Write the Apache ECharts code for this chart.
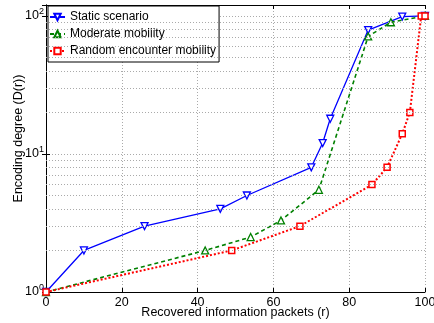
<!DOCTYPE html>
<html><head><meta charset="utf-8">
<script src="https://cdn.jsdelivr.net/npm/echarts@6/dist/echarts.min.js"></script>
<style>html,body{margin:0;padding:0;background:#fff}#c{width:434px;height:323px}</style>
</head><body><div id="c"></div>
<script>
const staticX = [0, 10, 26, 46, 53, 70, 73, 75, 85, 94, 100];
const staticY = [1, 2, 3, 4, 5, 8, 12, 18, 79, 99, 100];
const moderateX = [0, 42, 54, 62, 72, 85, 91, 100];
const moderateY = [1, 2, 2.5, 3.3, 5.5, 71, 90, 100];
const randomX = [0, 49, 67, 86, 90, 94, 96, 99, 100];
const randomY = [1, 2, 3, 6, 8, 14, 20, 100, 100];
const minorY = [2,3,4,5,6,7,8,9,20,30,40,50,60,70,80,90];
const xTicks = [0, 20, 40, 60, 80, 100];

const pairs = (xs, ys) => xs.map((x, i) => [x, ys[i]]);
const font = 'Liberation Sans, Arial, sans-serif';
const chart = echarts.init(document.getElementById('c'), null, {renderer: 'canvas'});
const grid = {left: 46, right: 9, top: 5, bottom: 31, outerBoundsMode: 'none', containLabel: false};
const dotted = {color: '#aaa', type: [1, 2], width: 1};
chart.setOption({
  animation: false,
  grid: grid,
  legend: {
    left: 48, top: 6, orient: 'vertical',
    backgroundColor: '#fff', borderColor: '#000', borderWidth: 1,
    padding: [5, 3, 5, 1], itemGap: 5, itemWidth: 15, itemHeight: 8,
    textStyle: {fontFamily: font, fontSize: 12, color: '#000'},
    data: ['Static scenario', 'Moderate mobility', 'Random encounter mobility']
  },
  xAxis: [{
    type: 'value', min: 0, max: 100, interval: 20,
    name: 'Recovered information packets (r)', nameLocation: 'middle', nameGap: 14,
    nameMoveOverlap: false,
    nameTextStyle: {fontFamily: font, fontSize: 12.5, color: '#000'},
    axisLine: {lineStyle: {color: '#000', width: 1}},
    axisTick: {inside: true, length: 4, lineStyle: {color: '#000'}},
    axisLabel: {fontFamily: font, fontSize: 12.5, color: '#000', margin: 4},
    splitLine: {show: true, lineStyle: dotted}
  }, {
    type: 'value', min: 0, max: 100, interval: 20, position: 'top',
    axisLine: {show: true, lineStyle: {color: '#000', width: 1}},
    axisTick: {inside: true, length: 4, lineStyle: {color: '#000'}},
    axisLabel: {show: false}, splitLine: {show: false}
  }],
  yAxis: [{
    type: 'log', logBase: 10, min: 1, max: 120,
    name: 'Encoding degree (D(r))', nameLocation: 'middle', nameGap: 21,
    nameMoveOverlap: false,
    nameTextStyle: {fontFamily: font, fontSize: 12.5, color: '#000', padding: [0, 0, 0, 20]},
    axisLine: {show: true, lineStyle: {color: '#000', width: 1}},
    axisTick: {inside: true, length: 4, lineStyle: {color: '#000'}},
    axisLabel: {
      fontFamily: font, color: '#000', margin: 2, showMaxLabel: false,
      formatter: v => {
        const e = Math.log10(v);
        if (Math.abs(e - Math.round(e)) > 1e-6) return '';
        return '{b|10}{s|' + Math.round(e) + '}';
      },
      rich: {b: {fontSize: 12.5, fontFamily: font, color: '#000'},
             s: {fontSize: 9, fontFamily: font, color: '#000', padding: [0, 0, 8, 0]}}
    },
    splitLine: {show: true, lineStyle: dotted}
  }, {
    type: 'log', logBase: 10, min: 1, max: 120, position: 'right',
    axisLine: {show: true, lineStyle: {color: '#000', width: 1}},
    axisTick: {inside: true, length: 4, lineStyle: {color: '#000'}},
    axisLabel: {show: false}, splitLine: {show: false}
  }],
  series: [{
    name: 'Static scenario', type: 'line', data: pairs(staticX, staticY),
    symbol: 'triangle', symbolRotate: 180, symbolSize: 7,
    lineStyle: {color: '#0000ff', width: 1.3},
    itemStyle: {color: '#fff', borderColor: '#0000ff', borderWidth: 1.3},
    markLine: {
      silent: true, symbol: 'none', label: {show: false},
      lineStyle: dotted, animation: false,
      data: minorY.map(v => ({yAxis: v}))
    }
  }, {
    name: 'Moderate mobility', type: 'line', data: pairs(moderateX, moderateY),
    symbol: 'triangle', symbolSize: 7,
    lineStyle: {color: '#008000', width: 1.6, type: [4, 3]},
    itemStyle: {color: '#fff', borderColor: '#008000', borderWidth: 1.3}
  }, {
    name: 'Random encounter mobility', type: 'line', data: pairs(randomX, randomY),
    symbol: 'rect', symbolSize: 6,
    lineStyle: {color: '#ff0000', width: 2, type: [2, 2]},
    itemStyle: {color: '#fff', borderColor: '#ff0000', borderWidth: 1.5}
  }]
});
</script></body></html>
